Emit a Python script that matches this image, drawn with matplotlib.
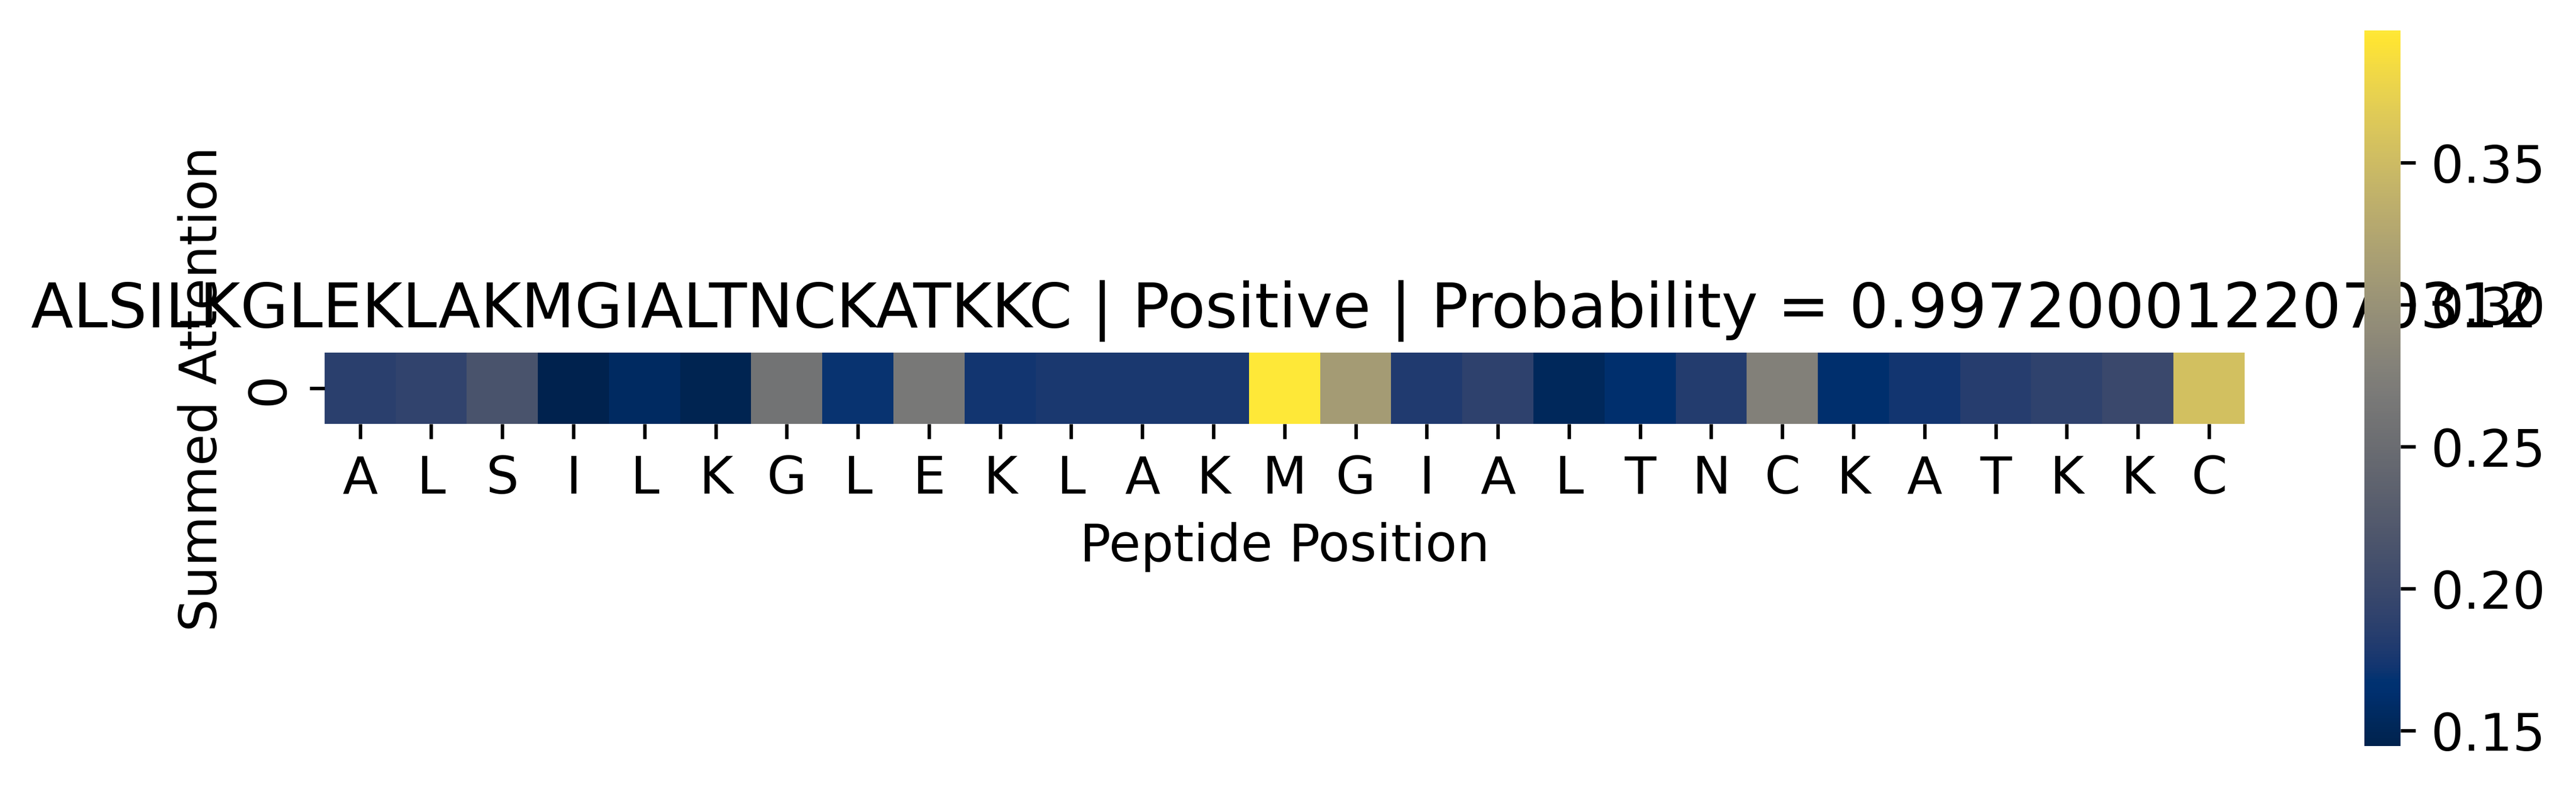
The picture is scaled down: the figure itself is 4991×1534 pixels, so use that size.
import numpy as np
import matplotlib
matplotlib.use("Agg")
import matplotlib.pyplot as plt  # noqa: E402
import seaborn as sns

peptide = "ALSILKGLEKLAKMGIALTNCKATKKC"
label = "Positive"
probability = 0.9972000122070312

# summed attention per residue
attention = [0.186, 0.191, 0.214, 0.1445, 0.156, 0.147, 0.259, 0.170, 0.266,
             0.173, 0.176, 0.176, 0.176, 0.3965, 0.311, 0.179, 0.189, 0.153,
             0.163, 0.181, 0.277, 0.163, 0.173, 0.183, 0.190, 0.199, 0.355]

fig, ax = plt.subplots(figsize=(10, 3))
sns.heatmap(np.array([attention]), cmap="cividis", square=True,
            xticklabels=list(peptide), ax=ax)
ax.set_title(f"{peptide} | {label} | Probability = {probability}", fontsize="x-large")
ax.set_xlabel("Peptide Position", fontsize=12)
ax.set_ylabel("Summed Attention", fontsize=12)
ax.tick_params(axis="both", labelsize=12)
ax.collections[0].colorbar.ax.tick_params(labelsize=12)
fig.savefig("out.png", dpi=600, bbox_inches="tight")
plt.close(fig)
